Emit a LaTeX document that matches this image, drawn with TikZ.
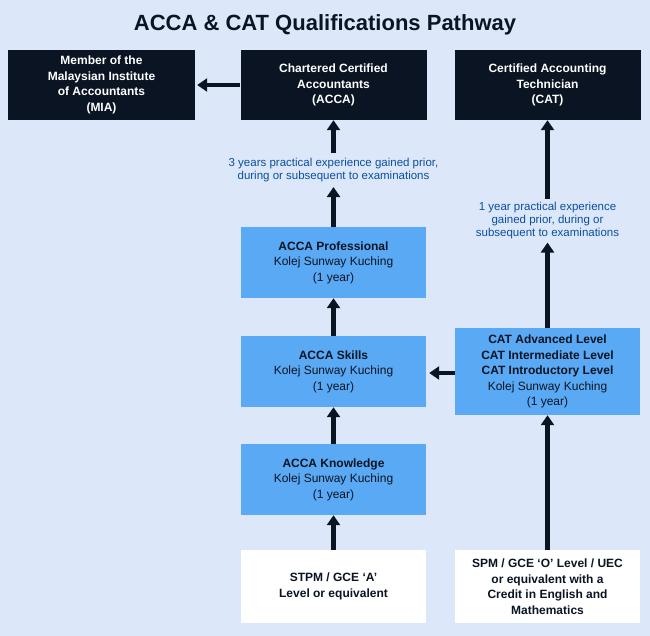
\documentclass[tikz,border=0pt]{standalone}
\usepackage{fontspec}
\setmainfont{Liberation Sans}
\usetikzlibrary{arrows.meta}

\definecolor{pagebg}{HTML}{DCE8FA}
\definecolor{navy}{HTML}{0A1423}
\definecolor{boxblue}{HTML}{5AA9F4}
\definecolor{noteblue}{HTML}{0B4E9E}

\begin{document}
\begin{tikzpicture}[ x=1pt, y=-1pt,
  darkbox/.style={fill=navy,text=white,shape=rectangle,align=center,inner sep=0pt,
    minimum width=186pt,minimum height=70pt,font=\bfseries\fontsize{12}{15.5}\selectfont},
  bluebox/.style={fill=boxblue,text=navy,shape=rectangle,align=center,inner sep=0pt,
    minimum width=185pt,minimum height=71pt,font=\fontsize{12}{15.5}\selectfont},
  whitebox/.style={fill=white,text=navy,shape=rectangle,align=center,inner sep=0pt,
    minimum width=185pt,minimum height=73pt,font=\bfseries\fontsize{12}{15.5}\selectfont},
  note/.style={text=noteblue,align=center,inner sep=5pt,font=\fontsize{11.5}{13}\selectfont},
  flow/.style={draw=navy,line width=4.5pt,-{Triangle[width=13pt,length=10pt]}},
]
\useasboundingbox[fill=pagebg] (0,0) rectangle (650,636);

\node[text=navy,font=\bfseries\fontsize{22}{26}\selectfont] (title) at (325,25) {ACCA \& CAT Qualifications Pathway};

\node[darkbox,minimum width=187pt] (mia) at (101.5,85) {Member of the\\Malaysian Institute\\of Accountants\\(MIA)};
\node[darkbox] (acca) at (333.5,85) {Chartered Certified\\Accountants\\(ACCA)};
\node[darkbox] (cat) at (547.5,85) {Certified Accounting\\Technician\\(CAT)};

\node[note] (accanote) at (333.5,170) {3 years practical experience gained prior,\\during or subsequent to examinations};
\node[note,inner sep=3pt] (catnote) at (547.5,221) {1 year practical experience\\gained prior, during or\\subsequent to examinations};

\node[bluebox] (prof) at (333.5,262.5) {\textbf{ACCA Professional}\\Kolej Sunway Kuching\\(1 year)};
\node[bluebox] (skills) at (333.5,371.5) {\textbf{ACCA Skills}\\Kolej Sunway Kuching\\(1 year)};
\node[bluebox] (know) at (333.5,479.5) {\textbf{ACCA Knowledge}\\Kolej Sunway Kuching\\(1 year)};
\node[bluebox,minimum height=87pt] (catlev) at (547.5,371.5) {\textbf{CAT Advanced Level}\\\textbf{CAT Intermediate Level}\\\textbf{CAT Introductory Level}\\Kolej Sunway Kuching\\(1 year)};

\node[whitebox] (stpm) at (333.5,586.5) {STPM / GCE ‘A’\\Level or equivalent};
\node[whitebox] (spm) at (547.5,586.5) {SPM / GCE ‘O’ Level / UEC\\or equivalent with a\\Credit in English and\\Mathematics};

\draw[flow,shorten >=2pt] (acca) -- (mia);
\draw[flow] (accanote) -- (acca);
\draw[flow] (prof) -- (accanote);
\draw[flow] (catnote) -- (cat);
\draw[flow] (catlev) -- (catnote);
\draw[flow] (skills) -- (prof);
\draw[flow] (know) -- (skills);
\draw[flow] (stpm) -- (know);
\draw[flow,shorten >=3pt] (catlev.west |- 0,373) -- (skills.east |- 0,373);
\draw[flow] (spm) -- (catlev);

\end{tikzpicture}
\end{document}
